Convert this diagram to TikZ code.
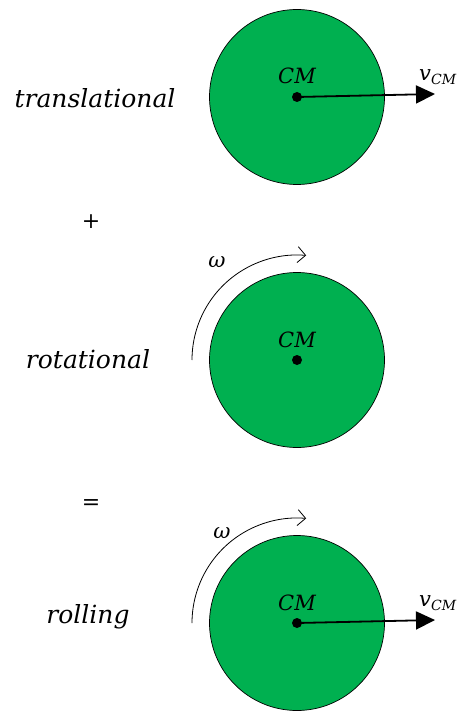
\documentclass[tikz,border=0pt]{standalone}
\usepackage{fontspec}
\setmainfont{DejaVu Serif}
\usetikzlibrary{arrows.meta}
\definecolor{discgreen}{RGB}{0,176,80}
\newcommand{\vcm}{v\raisebox{-4pt}{\fontsize{14}{16}\selectfont CM}}
\begin{document}
\begin{tikzpicture}[x=1pt,y=-1pt,
  disc/.style={circle,draw=black,line width=0.7pt,fill=discgreen,minimum size=175pt,inner sep=0pt},
  dot/.style={circle,fill=black,minimum size=10pt,inner sep=0pt},
  lbl/.style={font=\fontsize{21}{24}\selectfont\itshape,inner sep=0pt},
  word/.style={font=\fontsize{25}{28}\selectfont\itshape,inner sep=0pt},
  op/.style={font=\fontsize{22}{24}\selectfont,inner sep=0pt},
  vel/.style={line width=1.8pt,-{Triangle[length=19pt,width=18pt]}},
  spin/.style={line width=0.8pt,-{Straight Barb[length=8pt,width=16pt,line width=0.8pt]}}]
\useasboundingbox (0,0) rectangle (458,711);
% translational
\node[disc] (d1) at (297,97) {};
\node[dot] (c1) at (297,97) {};
\node[lbl] (cm1) at (297,76) {CM};
\coordinate (t1) at (435,94);
\draw[vel] (c1.center) -- (t1);
\node[lbl,anchor=west] (v1) at (419,77) {\vcm};
\node[word] (l1) at (95,98) {translational};
\node[op] (plus) at (91,222) {+};
% rotational
\node[disc] (d2) at (297,360) {};
\node[dot] (c2) at (297,360) {};
\node[lbl] (cm2) at (297,340) {CM};
\coordinate (a2) at (192,360);
\draw[spin] (a2) arc[start angle=180,end angle=275,radius=105];
\node[lbl] (w2) at (217,262) {ω};
\node[word] (l2) at (88,359) {rotational};
\node[op] (eq) at (91,505) {=};
% rolling
\node[disc] (d3) at (297,623) {};
\node[dot] (c3) at (297,623) {};
\node[lbl] (cm3) at (297,603) {CM};
\coordinate (t3) at (435,620);
\draw[vel] (c3.center) -- (t3);
\node[lbl,anchor=west] (v3) at (419,603) {\vcm};
\coordinate (a3) at (192,623);
\draw[spin] (a3) arc[start angle=180,end angle=275,radius=105];
\node[lbl] (w3) at (222,533) {ω};
\node[word] (l3) at (88,617) {rolling};
\end{tikzpicture}
\end{document}
